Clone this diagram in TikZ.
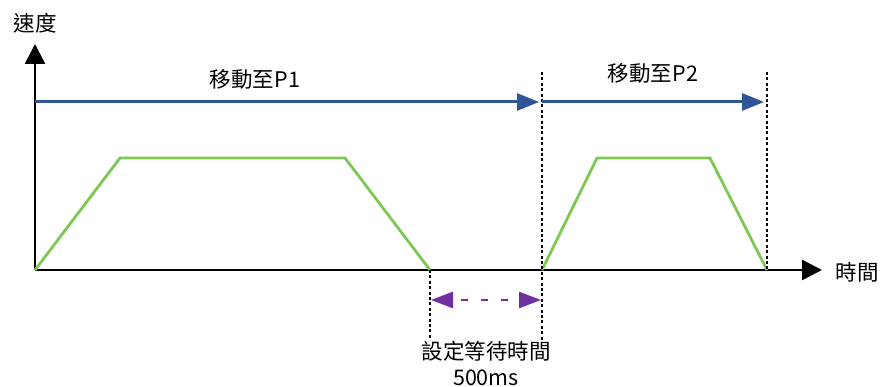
\documentclass[tikz,border=0pt]{standalone}
\usepackage{fontspec}
\newfontfamily\cjk{Noto Sans CJK TC}
\usepackage{xcolor}
\usetikzlibrary{arrows.meta}
\definecolor{moveblue}{HTML}{2F5597}
\definecolor{rampgreen}{HTML}{7DC855}
\definecolor{waitpurple}{HTML}{7030A0}
\tikzset{
  px/.style={x=1pt, y=-1pt, font=\cjk\fontsize{21.5}{26}\selectfont},
  v axis/.style={line width=2.6pt, -{Triangle[length=20pt, width=20pt]}},
  v move/.style={moveblue, line width=3pt, -{Triangle[length=22pt, width=17pt]}},
  v ramp/.style={rampgreen, line width=2.8pt},
  v mark/.style={line width=2.8pt, dash pattern=on 3pt off 2.4pt},
  v wait/.style={waitpurple, line width=2.6pt, dash pattern=on 7pt off 13pt, dash phase=-9pt,
                 {Triangle[length=22pt, width=16pt]}-{Triangle[length=22pt, width=16pt]}},
  v lab/.style={inner sep=0pt},
}

\begin{document}
\begin{tikzpicture}[px]
\useasboundingbox (0, 0) rectangle (883, 387);
% ---- axes ----
\coordinate (o) at (35, 270);
\coordinate (ytip) at (35, 44);
\coordinate (xtip) at (822, 270);
\draw[v axis] (o) -- (ytip);
\draw[v axis] (o) -- (xtip);
\node[v lab] (vlab) at (35, 23) {速度};
\node[v lab] (tlab) at (857, 272) {時間};
% ---- speed profiles ----
\coordinate (a0) at (35, 270);  \coordinate (a1) at (120, 158);
\coordinate (a2) at (345, 158); \coordinate (a3) at (430, 270);
\coordinate (b0) at (542, 270); \coordinate (b1) at (597, 158);
\coordinate (b2) at (710, 158); \coordinate (b3) at (767, 270);
\draw[v ramp] (a0) -- (a1) -- (a2) -- (a3);
\draw[v ramp] (b0) -- (b1) -- (b2) -- (b3);
% ---- markers ----
\coordinate (m1top) at (542, 72); \coordinate (m1bot) at (542, 340);
\coordinate (m2top) at (767, 72);
\coordinate (m0bot) at (430, 340);
\draw[v mark] (m1top) -- (m1bot);
\draw[v mark] (m2top) -- (b3);
\draw[v mark] (a3) -- (m0bot);
% ---- moves ----
\coordinate (p1s) at (35, 102);  \coordinate (p1e) at (539, 102);
\coordinate (p2s) at (542, 102); \coordinate (p2e) at (764, 102);
\draw[v move] (p1s) -- (p1e);
\draw[v move] (p2s) -- (p2e);
\node[v lab] (p1lab) at (255, 79) {移動至P1};
\node[v lab] (p2lab) at (653, 73) {移動至P2};
% ---- wait ----
\coordinate (w0) at (431, 300); \coordinate (w1) at (541, 300);
\draw[v wait] (w0) -- (w1);
\node[v lab, align=center] (wlab) at (486, 364) {設定等待時間\\500ms};
\end{tikzpicture}
\end{document}
